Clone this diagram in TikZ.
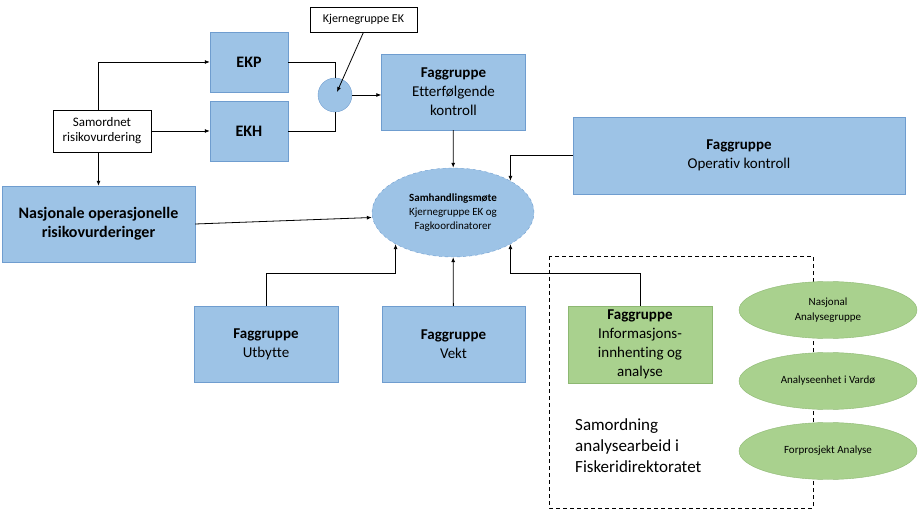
\documentclass[tikz,border=0pt]{standalone}
\usepackage{fontspec}
\setmainfont{Carlito}[Ligatures=CommonOff]
\usetikzlibrary{arrows.meta,shapes.geometric}
\definecolor{boxblue}{HTML}{9DC3E6}
\definecolor{edgeblue}{HTML}{6F9DCF}
\definecolor{boxgreen}{HTML}{A9D18E}
\definecolor{edgegreen}{HTML}{8DB872}
\tikzset{
  bluebox/.style={draw=edgeblue,fill=boxblue,align=center,inner sep=0pt,
    font=\fontsize{15}{19}\selectfont},
  greenbox/.style={bluebox,draw=edgegreen,fill=boxgreen},
  whitebox/.style={draw=black,fill=white,align=center,inner sep=0pt},
  greenoval/.style={ellipse,draw=edgegreen,fill=boxgreen,align=center,inner sep=0pt,
    minimum width=178,minimum height=57,font=\fontsize{11}{15}\selectfont},
  link/.style={line width=0.8pt},
}
\begin{document}
\begin{tikzpicture}[x=1pt,y=-1pt,>={Latex[length=5pt,width=4pt]}]
     \useasboundingbox (0,0) rectangle (918,510);
     % Øverste rad
     \node[whitebox,minimum width=107,minimum height=25,font=\fontsize{12}{14}\selectfont]
       (kjerne) at (363.5,19.5) {Kjernegruppe EK};
     \node[bluebox,minimum width=78,minimum height=60,font=\bfseries\fontsize{16}{19}\selectfont]
       (ekp) at (249,62) {EKP};
     \node[bluebox,minimum width=78,minimum height=60,font=\bfseries\fontsize{16}{19}\selectfont]
       (ekh) at (249,131) {EKH};
     \node[circle,draw=edgeblue,fill=boxblue,minimum size=34] (sirkel) at (335,95) {};
     \node[bluebox,minimum width=144,minimum height=76] (etter) at (453.5,92)
       {\textbf{Faggruppe}\\Etterfølgende\\kontroll};
     \node[whitebox,minimum width=98,minimum height=42,font=\fontsize{13}{15}\selectfont]
       (samordnet) at (102,131) {Samordnet\\risikovurdering};
     \node[bluebox,minimum width=193,minimum height=76,font=\bfseries\fontsize{16}{19}\selectfont]
       (nasjonale) at (98.5,224) {Nasjonale operasjonelle\\risikovurderinger};
     \node[bluebox,minimum width=332,minimum height=77] (operativ) at (739,155.5)
       {\textbf{Faggruppe}\\Operativ kontroll};
     % Samhandlingsmøtet i midten
     \node[ellipse,draw=edgeblue,dashed,fill=boxblue,minimum width=162,minimum height=89,
       align=center,inner sep=0pt,font=\fontsize{11}{14}\selectfont] (samhandling) at (453,212.5)
       {\textbf{Samhandlingsmøte}\\Kjernegruppe EK og\\Fagkoordinatorer};
     % Nederste rad
     \node[bluebox,minimum width=144,minimum height=76] (utbytte) at (266,344)
       {\textbf{Faggruppe}\\Utbytte};
     \node[bluebox,minimum width=143,minimum height=76] (vekt) at (453.5,344)
       {\textbf{Faggruppe}\\Vekt};
     % Samordning analysearbeid
     \draw[dashed,line width=0.7pt,dash pattern=on 4pt off 3pt] (549,256) rectangle (813,508);
     \node[greenbox,minimum width=144,minimum height=77] (info) at (640,344.5)
       {\textbf{Faggruppe}\\Informasjons-\\innhenting og\\analyse};
     \node[anchor=west,align=left,inner sep=0pt,font=\fontsize{17}{21}\selectfont]
       (analysearbeid) at (575,446) {Samordning\\analysearbeid i\\Fiskeridirektoratet};
     \node[greenoval] (nasjonal) at (828,310) {Nasjonal\\Analysegruppe};
     \node[greenoval] (vardo) at (828,381) {Analyseenhet i Vardø};
     \node[greenoval] (forprosjekt) at (828,451) {Forprosjekt Analyse};
     % Piler
     \draw[link,->] (samordnet.north -| nasjonale) |- (ekp);
     \draw[link,->] (samordnet) -- (ekh);
     \draw[link,->] (samordnet.south -| nasjonale) -- (nasjonale.north);
     \draw[link] (ekp) -| (sirkel);
     \draw[link] (ekh) -| (sirkel);
     \draw[link,->] (sirkel.east) -- (sirkel.east -| etter.west);
     \draw[link,->] (kjerne.south) -- ([xshift=2,yshift=3]sirkel.center);
     \draw[link,->] (etter) -- (samhandling);
     \draw[link,->] (operativ.west) -| (samhandling.north east);
     \draw[link,->] (nasjonale.east) -- ([yshift=-5]samhandling.west);
     \draw[link,->] (utbytte.north) -- ++(0,-32) -| (samhandling.south west);
     \draw[link,->] (vekt) -- (samhandling);
     \draw[link,->] (info.north) -- ++(0,-32) -| (samhandling.south east);
\end{tikzpicture}
\end{document}
